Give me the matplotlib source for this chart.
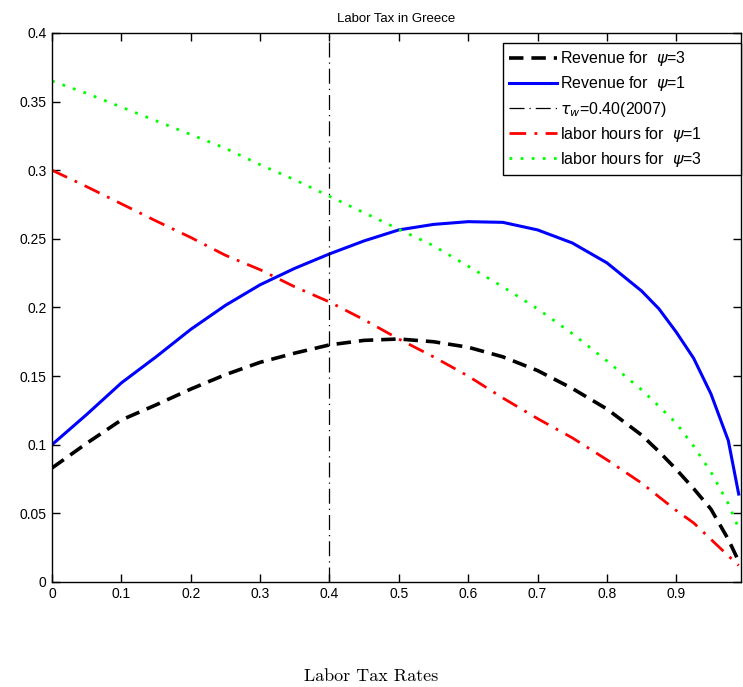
import matplotlib
matplotlib.use("Agg")
import matplotlib.pyplot as plt
from matplotlib.patches import Rectangle
from matplotlib.transforms import IdentityTransform

x = [0.00, 0.05, 0.10, 0.15, 0.20, 0.25, 0.30, 0.35, 0.40, 0.45, 0.50,
     0.55, 0.60, 0.65, 0.70, 0.75, 0.80, 0.85, 0.875, 0.90, 0.925, 0.95, 0.975, 0.99]
rev_psi3 = [0.083, 0.101, 0.118, 0.129, 0.1405, 0.151, 0.160, 0.1667, 0.1727, 0.176, 0.177,
            0.175, 0.171, 0.164, 0.154, 0.141, 0.126, 0.107, 0.095, 0.082, 0.068, 0.053, 0.031, 0.015]
rev_psi1 = [0.100, 0.122, 0.145, 0.164, 0.184, 0.2015, 0.2165, 0.2285, 0.239, 0.2485, 0.2565,
            0.2605, 0.2625, 0.262, 0.2565, 0.247, 0.2325, 0.212, 0.199, 0.182, 0.163, 0.137, 0.103, 0.064]
hours_psi1 = [0.300, 0.288, 0.2755, 0.263, 0.251, 0.238, 0.2275, 0.215, 0.204, 0.191, 0.177,
              0.164, 0.150, 0.134, 0.119, 0.105, 0.089, 0.072, 0.062, 0.052, 0.043, 0.031, 0.019, 0.012]
hours_psi3 = [0.365, 0.356, 0.346, 0.336, 0.326, 0.316, 0.304, 0.293, 0.281, 0.269, 0.257,
              0.245, 0.230, 0.215, 0.199, 0.181, 0.161, 0.140, 0.128, 0.1156, 0.099, 0.080, 0.057, 0.039]
tau_2007 = 0.40

xticks = [0, 0.1, 0.2, 0.3, 0.4, 0.5, 0.6, 0.7, 0.8, 0.9]
xticklabels = ["0", "0.1", "0.2", "0.3", "0.4", "0.5", "0.6", "0.7", "0.8", "0.9"]
yticks = [0, 0.05, 0.1, 0.15, 0.2, 0.25, 0.3, 0.35, 0.4]
yticklabels = ["0", "0.05", "0.1", "0.15", "0.2", "0.25", "0.3", "0.35", "0.4"]

labels = ["Revenue for  $\\psi$=3", "Revenue for  $\\psi$=1",
          "$\\tau_w$=0.40(2007)", "labor hours for  $\\psi$=1",
          "labor hours for  $\\psi$=3"]

plt.rcParams['font.family'] = ['Liberation Sans', 'DejaVu Sans']
plt.rcParams['mathtext.fontset'] = 'dejavusans'

DPI = 100
fig = plt.figure(figsize=(7.43, 6.87), dpi=DPI)
ax = fig.add_axes([0.070, 0.153, 0.927, 0.799])

ax.plot(x, rev_psi3, color='black', linestyle=(0, (4, 2.2)), linewidth=2.6, label=labels[0])
ax.plot(x, rev_psi1, color='#0000ff', linestyle='-', linewidth=2.2, label=labels[1])
ax.axvline(tau_2007, color='black', linestyle=(0, (12, 4, 1, 4)), linewidth=0.9, label=labels[2])
ax.plot(x, hours_psi1, color='#ff0000', linestyle=(0, (6, 3, 1, 3)), linewidth=2.0, label=labels[3])
ax.plot(x, hours_psi3, color='#00ff00', linestyle=(0, (1, 3)), linewidth=2.0, label=labels[4])

ax.set_xlim(0, 0.993)
ax.set_ylim(0, 0.4)
ax.set_xticks(xticks)
ax.set_xticklabels(xticklabels)
ax.set_yticks(yticks)
ax.set_yticklabels(yticklabels)
ax.tick_params(direction='in', top=True, right=True, length=6, width=1,
               labelsize=10, pad=4)
for s in ax.spines.values():
    s.set_linewidth(1.0)

ax.set_title("Labor Tax in Greece", fontsize=9.5, pad=8)
fig.text(0.5, 0.004, "Labor Tax Rates", ha='center', va='bottom',
         fontsize=13, family='cmr10')

# legend: contents shifted left, box padded on the right like MATLAB
legend_fs = 11.5
border_pad = 0.4
extra_right_px = 32
fig.canvas.draw()
ax_bb = ax.get_window_extent()
leg = ax.legend(loc='upper right',
                bbox_to_anchor=(1.0 - extra_right_px / ax_bb.width, 1 - 10 / ax_bb.height),
                fontsize=legend_fs, frameon=False, handlelength=3.0,
                borderaxespad=0.0, labelspacing=0.38, handletextpad=0.2,
                borderpad=border_pad)
fig.canvas.draw()
renderer = fig.canvas.get_renderer()
bb = leg.get_window_extent(renderer)
frame = Rectangle((bb.x0, bb.y0), ax_bb.x1 - bb.x0, bb.y1 - bb.y0,
                  transform=IdentityTransform(), facecolor='white',
                  edgecolor='black', linewidth=1.0, zorder=4.5, clip_on=False)
ax.add_artist(frame)

fig.savefig("out.png", dpi=DPI)
